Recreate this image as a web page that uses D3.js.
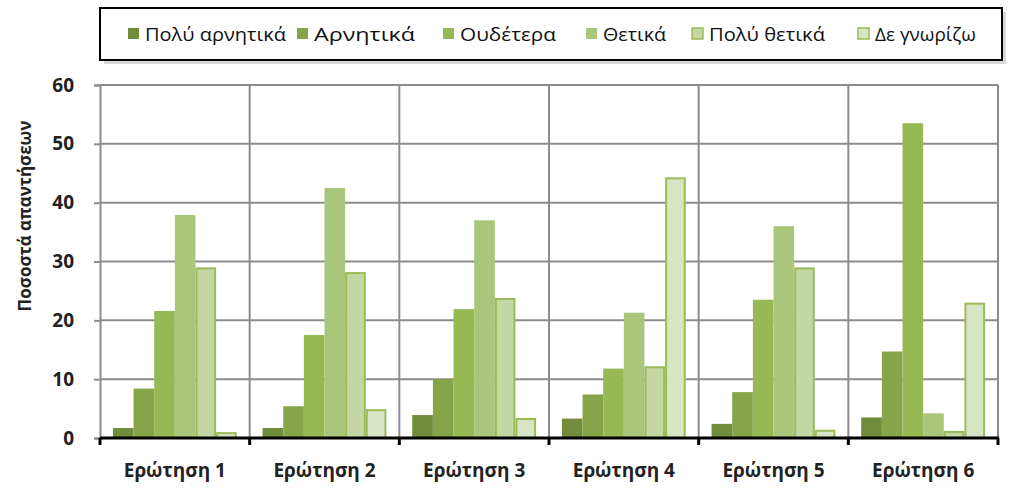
<!DOCTYPE html>
<html><head><meta charset="utf-8">
<script src="https://cdn.jsdelivr.net/npm/d3@7"></script>
<style>body{margin:0;background:#fff}svg{display:block}</style>
</head><body><svg id="c" width="1024" height="493"></svg>
<script>
const categories = ["Ερώτηση 1","Ερώτηση 2","Ερώτηση 3","Ερώτηση 4","Ερώτηση 5","Ερώτηση 6"];
const seriesNames = ["Πολύ αρνητικά","Αρνητικά","Ουδέτερα","Θετικά","Πολύ θετικά","Δε γνωρίζω"];
const veryNegative = [1.7, 1.7, 3.9, 3.3, 2.4, 3.5];
const negative     = [8.4, 5.4, 10.0, 7.4, 7.8, 14.7];
const neutral      = [21.6, 17.5, 21.9, 11.8, 23.5, 53.5];
const positive     = [37.9, 42.5, 37.0, 21.3, 36.0, 4.2];
const veryPositive = [29.0, 28.2, 23.8, 12.2, 29.0, 1.2];
const dontKnow     = [1.0, 4.9, 3.4, 44.3, 1.4, 23.0];
const yTicks = [0,10,20,30,40,50,60];
const yTitle = "Ποσοστά απαντήσεων";

const seriesValues = [veryNegative, negative, neutral, positive, veryPositive, dontKnow];
const fills   = ["#718c3a","#86a548","#97b954","#a9c67b","#c3d6a4","#d8e5c5"];
const strokes = ["none","none","none","none","#9bbb59","#9bbb59"];

const svg = d3.select("#c");
const m = {l:100, r:998, t:85, b:438};
const font = "'Open Sans', 'DejaVu Sans', sans-serif";

const x0 = d3.scaleBand().domain(categories).range([m.l, m.r]).paddingInner(0).paddingOuter(0);
const x1 = d3.scaleBand().domain(d3.range(seriesNames.length)).range([0, x0.bandwidth()]).paddingOuter(0.625).paddingInner(0);
const y = d3.scaleLinear().domain([0,60]).range([m.b, m.t]);

// horizontal grid
svg.append("g").selectAll("line").data(yTicks.slice(1)).join("line")
  .attr("x1", m.l).attr("x2", m.r).attr("y1", d=>y(d)).attr("y2", d=>y(d))
  .attr("stroke","#8c8c8c").attr("stroke-width",2);
// vertical grid at group boundaries
const bounds = categories.map(c=>x0(c)).concat([m.r]);
svg.append("g").selectAll("line").data(bounds.slice(1)).join("line")
  .attr("x1", d=>d).attr("x2", d=>d).attr("y1", m.t).attr("y2", m.b)
  .attr("stroke","#8c8c8c").attr("stroke-width",2);

// y axis
const yAxis = svg.append("g").attr("transform",`translate(${m.l},0)`)
  .call(d3.axisLeft(y).tickValues(yTicks).tickSize(6).tickPadding(20));
yAxis.select(".domain").attr("stroke","#8c8c8c").attr("stroke-width",2);
yAxis.selectAll(".tick line").attr("stroke","#8c8c8c").attr("stroke-width",2);
yAxis.selectAll("text").attr("font-family",font).attr("font-weight","bold")
  .attr("font-size",19).attr("fill","#222");

// bars
const groups = svg.append("g").selectAll("g").data(categories).join("g")
  .attr("transform", c=>`translate(${x0(c)},0)`);
groups.selectAll("rect").data((c,i)=>seriesValues.map((s,k)=>({k, v:s[i]}))).join("rect")
  .attr("x", d=>x1(d.k) + (strokes[d.k]!=="none"?1:0))
  .attr("width", d=>x1.bandwidth() - (strokes[d.k]!=="none"?2:0))
  .attr("y", d=>y(d.v) + (strokes[d.k]!=="none"?1:0))
  .attr("height", d=>Math.max(0, m.b - y(d.v) - (strokes[d.k]!=="none"?1:0)))
  .attr("fill", d=>fills[d.k])
  .attr("stroke", d=>strokes[d.k]).attr("stroke-width",2);

// x axis
const xAxis = svg.append("g");
xAxis.append("line").attr("x1",m.l).attr("x2",m.r+1).attr("y1",m.b).attr("y2",m.b)
  .attr("stroke","#000").attr("stroke-width",3);
xAxis.selectAll("line.t").data(bounds).join("line").attr("class","t")
  .attr("x1",d=>d).attr("x2",d=>d).attr("y1",m.b).attr("y2",m.b+7)
  .attr("stroke","#000").attr("stroke-width",3);
xAxis.selectAll("text").data(categories).join("text")
  .attr("x", c=>x0(c)+x0.bandwidth()/2).attr("y", 477)
  .attr("text-anchor","middle").attr("font-family",font).attr("font-weight","bold")
  .attr("font-size",19).attr("fill","#222").text(c=>c);

// y title
svg.append("text").attr("transform","translate(31,216) rotate(-90)")
  .attr("text-anchor","middle").attr("font-family",font).attr("font-weight","bold")
  .attr("font-size",17).attr("fill","#222").text(yTitle);

// legend
const lg = svg.append("g");
lg.append("rect").attr("x",104).attr("y",12).attr("width",902).attr("height",52)
  .attr("fill","#d0d0d0").attr("opacity",0.8);
lg.append("rect").attr("x",100).attr("y",8).attr("width",902).attr("height",52)
  .attr("fill","#fff").attr("stroke","#000").attr("stroke-width",2);
const legX = [128, 297, 443, 586, 692, 858];
const legW = [141, 101, 96, 63, 116, 101];
const items = lg.selectAll("g.it").data(seriesNames).join("g").attr("class","it")
  .attr("transform",(d,i)=>`translate(${legX[i]},34)`);
items.append("rect").attr("x",0).attr("y",-6).attr("width",11).attr("height",11)
  .attr("fill",(d,i)=>fills[i]).attr("stroke",(d,i)=>strokes[i]).attr("stroke-width",1.5);
items.append("text").attr("x",17).attr("y",7).attr("font-family",font)
  .attr("font-size",18).attr("fill","#111")
  .attr("textLength",(d,i)=>legW[i]).attr("lengthAdjust","spacingAndGlyphs").text(d=>d);
</script></body></html>
